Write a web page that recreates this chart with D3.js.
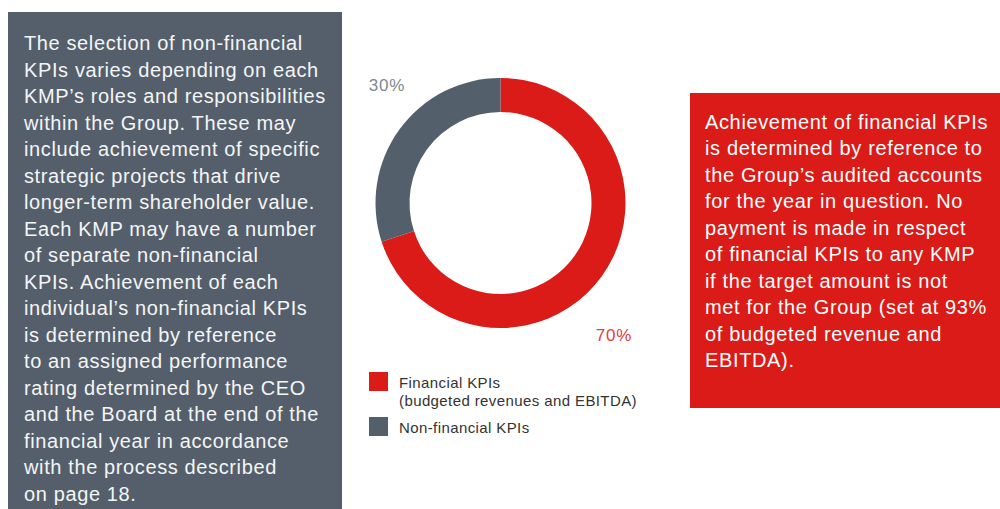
<!DOCTYPE html>
<html>
<head>
<meta charset="utf-8">
<script src="https://cdn.jsdelivr.net/npm/d3@7"></script>
<style>
  html, body { margin: 0; padding: 0; background: #ffffff; }
  svg { display: block; font-family: "Liberation Sans", Arial, Helvetica, sans-serif; }
</style>
</head>
<body>
<svg id="chart" width="1000" height="509"></svg>
<script>
// ---- Data ----
const categories = ["Financial KPIs", "Non-financial KPIs"];
const values = [70, 30];
const valueLabels = ["70%", "30%"];
const legendLabels = [["Financial KPIs", "(budgeted revenues and EBITDA)"], ["Non-financial KPIs"]];
const seriesColors = ["#da1b17", "#535f6b"];
const labelColors = ["#e2403c", "#7d8792"];

const leftText = [
  "The selection of non-financial",
  "KPIs varies depending on each",
  "KMP\u2019s roles and responsibilities",
  "within the Group. These may",
  "include achievement of specific",
  "strategic projects that drive",
  "longer-term shareholder value.",
  "Each KMP may have a number",
  "of separate non-financial",
  "KPIs. Achievement of each",
  "individual\u2019s non-financial KPIs",
  "is determined by reference",
  "to an assigned performance",
  "rating determined by the CEO",
  "and the Board at the end of the",
  "financial year in accordance",
  "with the process described",
  "on page 18."
];
const rightText = [
  "Achievement of financial KPIs",
  "is determined by reference to",
  "the Group\u2019s audited accounts",
  "for the year in question. No",
  "payment is made in respect",
  "of financial KPIs to any KMP",
  "if the target amount is not",
  "met for the Group (set at 93%",
  "of budgeted revenue and",
  "EBITDA)."
];

const svg = d3.select("#chart");

// ---- Left text box ----
svg.append("rect").attr("x", 8).attr("y", 12).attr("width", 334).attr("height", 497).attr("fill", "#545f6b");
svg.append("g").selectAll("text").data(leftText).join("text")
  .attr("x", 24).attr("y", (d, i) => 50 + i * 26.5)
  .attr("fill", "#f4f5f6").attr("font-size", 20).attr("letter-spacing", 0.62)
  .text(d => d);

// ---- Right text box ----
svg.append("rect").attr("x", 690).attr("y", 93).attr("width", 310).attr("height", 315).attr("fill", "#da1b17");
svg.append("g").selectAll("text").data(rightText).join("text")
  .attr("x", 705).attr("y", (d, i) => 128.5 + i * 26.5)
  .attr("fill", "#ffffff").attr("font-size", 20).attr("letter-spacing", 0.64)
  .text(d => d);

// ---- Donut ----
const cx = 500.5, cy = 203;
const pie = d3.pie().sort(null).value(d => d)(values);
const arc = d3.arc().innerRadius(91).outerRadius(125);
const g = svg.append("g").attr("transform", `translate(${cx},${cy})`);
g.selectAll("path").data(pie).join("path")
  .attr("d", arc).attr("fill", (d, i) => seriesColors[i]);

// value labels
const labelPos = [[113.5, 138], [-113.5, -112]];
g.selectAll("text.val").data(pie).join("text").attr("class", "val")
  .attr("x", (d, i) => labelPos[i][0]).attr("y", (d, i) => labelPos[i][1])
  .attr("text-anchor", "middle").attr("font-size", 17).attr("letter-spacing", 0.9)
  .attr("fill", (d, i) => labelColors[i])
  .text((d, i) => valueLabels[i]);

// ---- Legend ----
const legendY = [372, 417];
const lg = svg.append("g");
categories.forEach((c, i) => {
  lg.append("rect").attr("x", 369).attr("y", legendY[i]).attr("width", 19).attr("height", 19).attr("fill", seriesColors[i]);
  legendLabels[i].forEach((line, j) => {
    lg.append("text").attr("x", 399).attr("y", legendY[i] + 16 + j * 17.5)
      .attr("font-size", 15).attr("letter-spacing", 0.4).attr("fill", "#333333").text(line);
  });
});
</script>
</body>
</html>
